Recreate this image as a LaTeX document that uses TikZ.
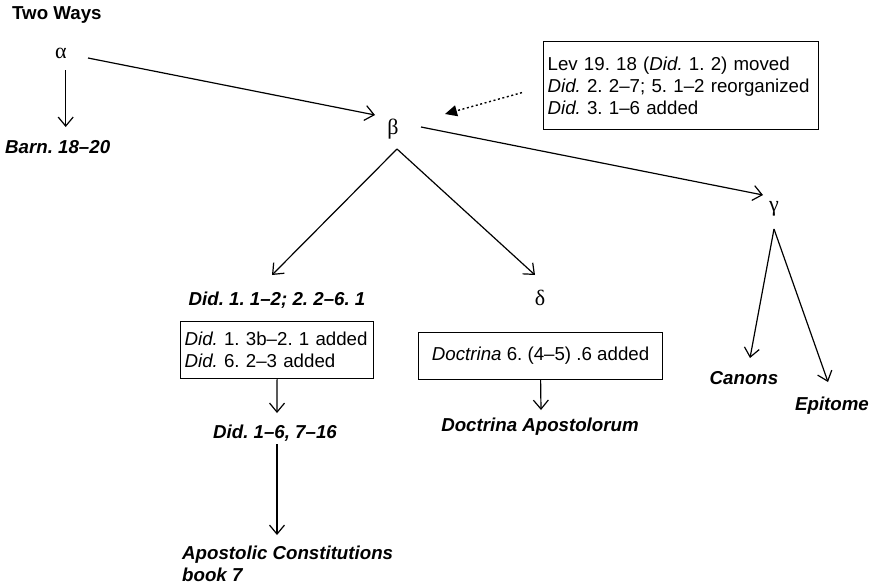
\documentclass[tikz,border=0pt]{standalone}
\usepackage{fontspec}
\setmainfont{Liberation Sans}
\newfontfamily\grk{Liberation Serif}
\usetikzlibrary{arrows.meta}
\frenchspacing
\hyphenpenalty=10000
\begin{document}
\begin{tikzpicture}[x=1pt,y=-1pt,
  every node/.style={font=\fontsize{18.7}{22}\selectfont, inner sep=0pt},
  greek/.style={font=\fontsize{22}{22}\selectfont\grk},
  lbl/.style={font=\fontsize{18.7}{22}\selectfont\bfseries\itshape},
  note/.style={draw, line width=1.2pt, align=left, inner xsep=4pt},
  arr/.style={line width=1.2pt, -{Straight Barb[length=9pt,width=15pt,line width=1.2pt]}},
  dotarr/.style={line width=1.4pt, dash pattern=on 2pt off 2.6pt, -{Triangle[length=12pt,width=11pt]}}
]
\useasboundingbox (0,0) rectangle (876,587);

\node[anchor=base west, font=\fontsize{18.7}{22}\selectfont\bfseries] (two) at (12,19) {Two Ways};
\node[greek] (alpha) at (61,53) {α};
\node[greek] (beta) at (393,129) {β};
\node[greek] (gamma) at (774,209) {γ};
\node[greek] (delta) at (540,298) {δ};

\node[lbl, anchor=base west] (barn) at (5,153) {Barn. 18–20};
\node[note, anchor=north west, text width=267pt, minimum height=88pt] (lev) at (543,41)
  {Lev 19. 18 (\textit{Did.} 1. 2) moved\\ \textit{Did.} 2. 2–7; 5. 1–2 reorganized\\ \textit{Did.} 3. 1–6 added};
\node[note, anchor=north west, text width=185pt, minimum height=57pt] (box1) at (180,321)
  {\textit{Did.} 1. 3b–2. 1 added\\ \textit{Did.} 6. 2–3 added};
\node[lbl, anchor=base] (did1) at (277,305) {Did. 1. 1–2; 2. 2–6. 1};
\node[lbl, anchor=base] (did2) at (275,438) {Did. 1–6, 7–16};
\node[lbl, anchor=north west, align=left] (apost) at (182,546) {Apostolic Constitutions\\ book 7};
\node[note, anchor=north west, minimum width=244pt, minimum height=47pt, align=center] (box2) at (418,332)
  {\textit{Doctrina} 6. (4–5) .6 added};
\node[lbl, anchor=base] (doct) at (540,431) {Doctrina Apostolorum};
\node[lbl, anchor=base] (canons) at (744,384) {Canons};
\node[lbl, anchor=base] (epit) at (832,410) {Epitome};

\draw[arr] ([shift={(4.7,17)}]alpha.center) -- ([shift={(60.7,-26)}]barn.base west);
\draw[arr] ([shift={(27,5)}]alpha.center) -- ([shift={(-18,-14)}]beta.center);
\draw[dotarr] ([shift={(-21,7)}]lev.west) -- ([shift={(52,-15)}]beta.center);
\draw[arr] ([shift={(28,-2)}]beta.center) -- ([shift={(-11,-14)}]gamma.center);
\draw[arr] ([shift={(4,20)}]beta.center) -- ([shift={(-5,-30)}]did1.base);
\draw[arr] ([shift={(4,20)}]beta.center) -- ([shift={(-5,-23)}]delta.center);
\draw[arr] (box1.south) -- ([shift={(2,-25)}]did2.base);
\draw[arr] ([shift={(2,6)}]did2.base) -- ([shift={(95,-11)}]apost.north west);
\draw[arr] (box2.south) -- ([shift={(1,-21)}]doct.base);
\draw[arr] ([shift={(0,20)}]gamma.center) -- ([shift={(6,-26)}]canons.base);
\draw[arr] ([shift={(0,20)}]gamma.center) -- ([shift={(-4,-28)}]epit.base);
\end{tikzpicture}
\end{document}
